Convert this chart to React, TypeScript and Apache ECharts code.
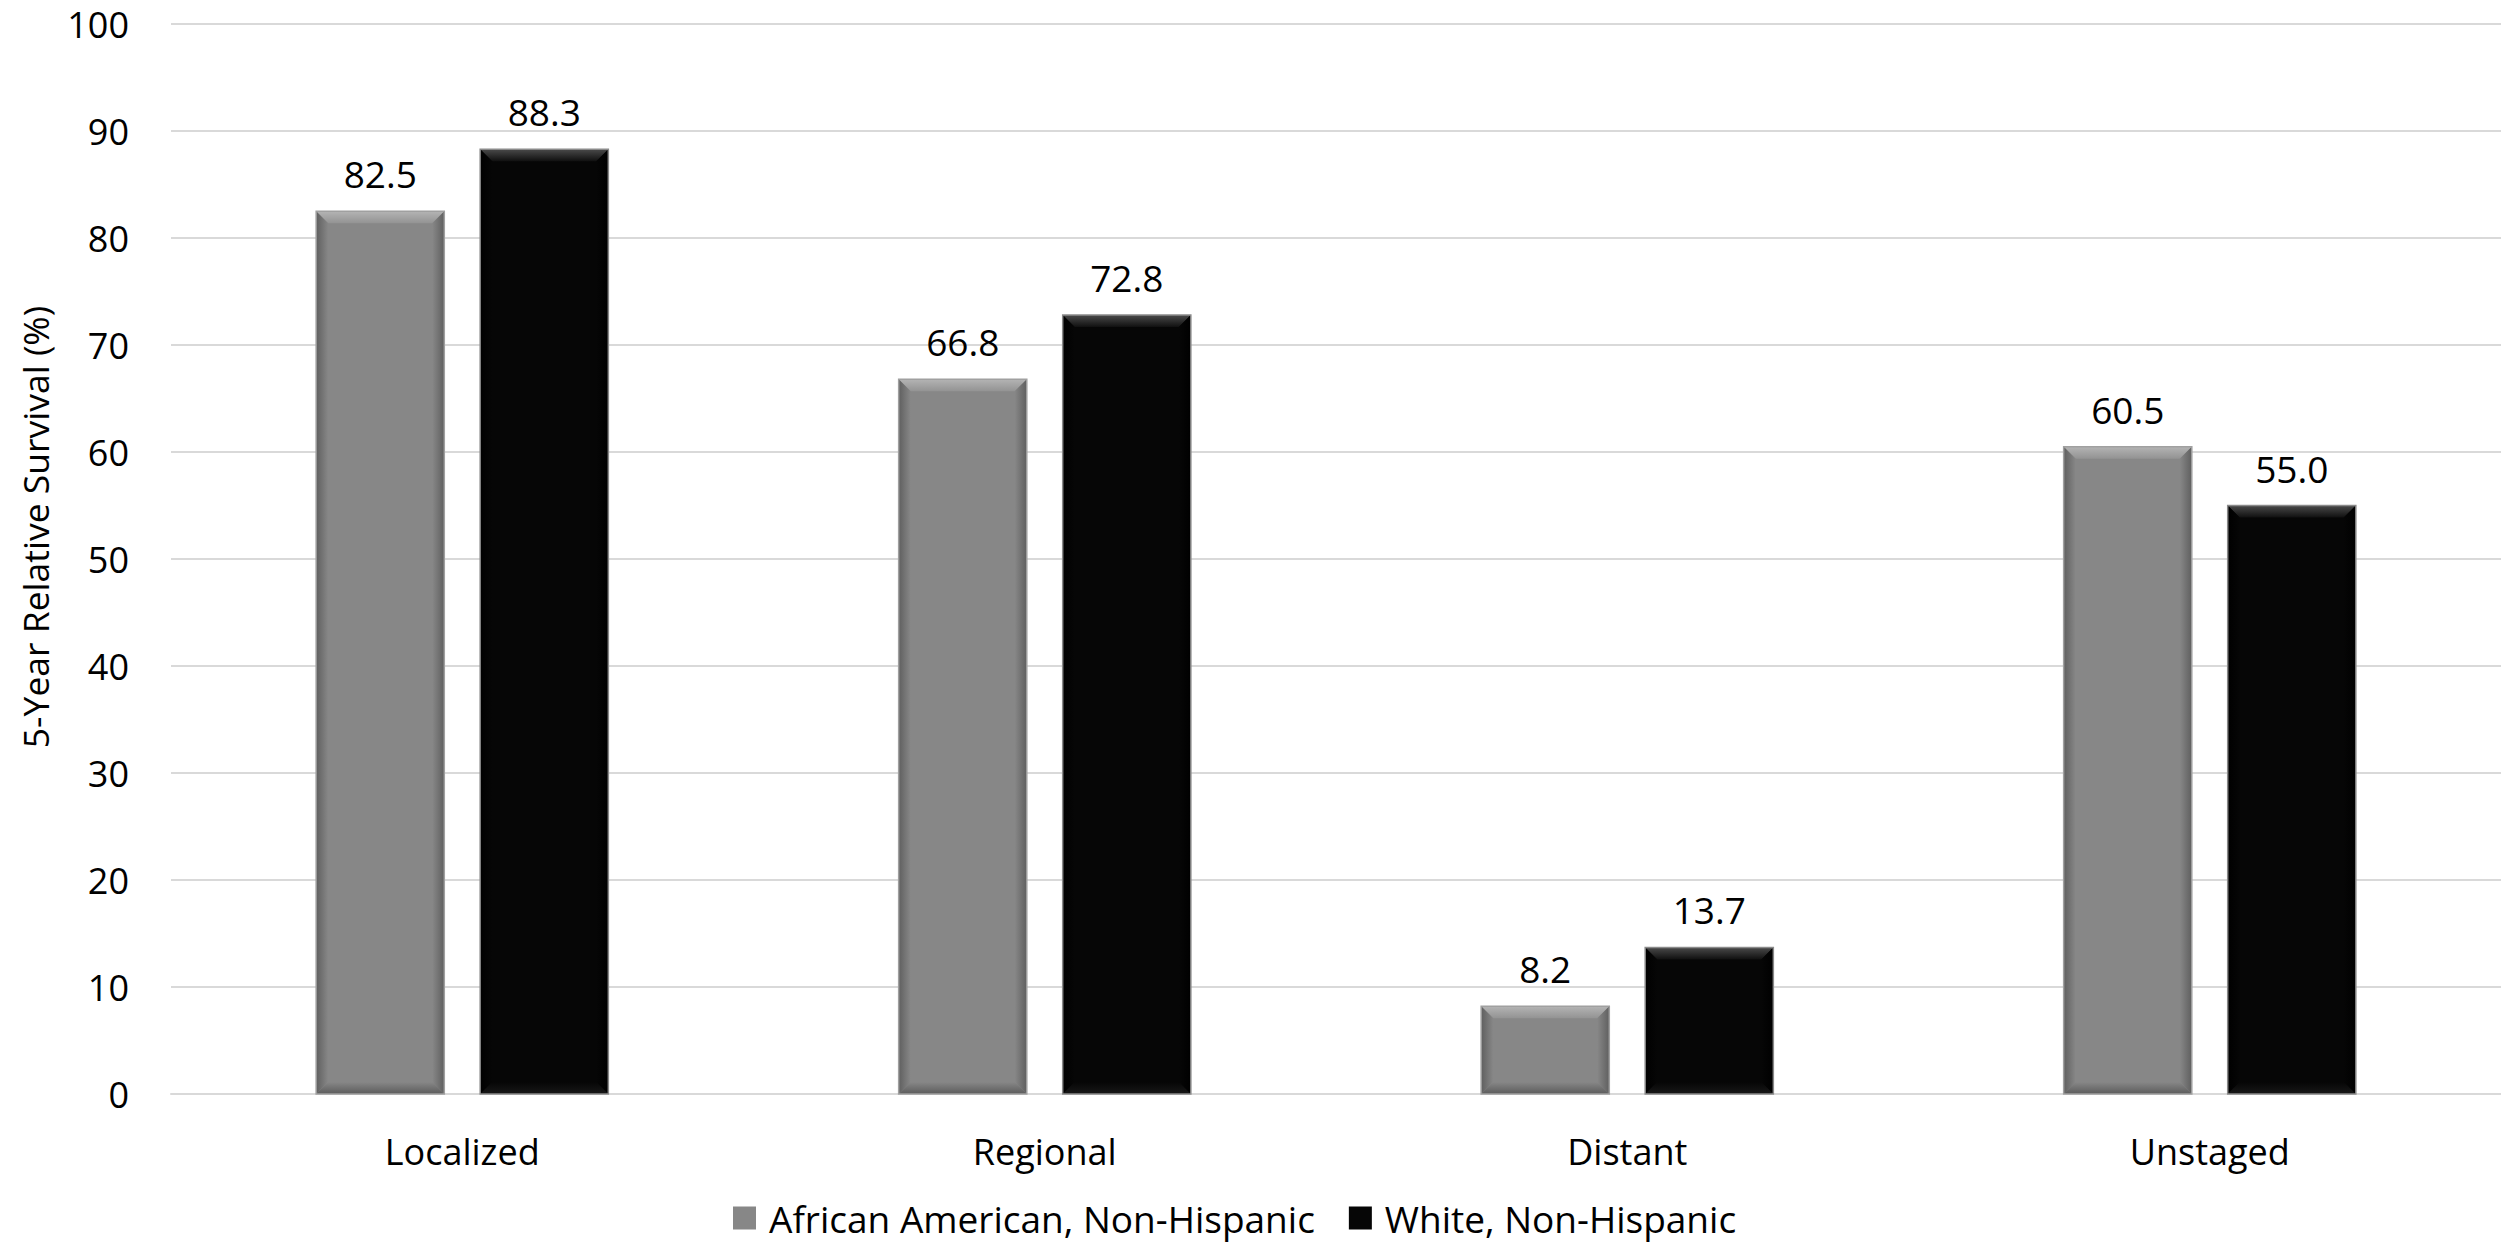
import React, { useEffect, useRef } from "react";
import * as echarts from "echarts";

const categories = ["Localized", "Regional", "Distant", "Unstaged"];
const seriesNames = ["African American, Non-Hispanic", "White, Non-Hispanic"];
const africanAmerican = [82.5, 66.8, 8.2, 60.5];
const white = [88.3, 72.8, 13.7, 55.0];
const yTicks = { min: 0, max: 100, interval: 10 };
const yAxisTitle = "5-Year Relative Survival (%)";

const FONT = "Open Sans";

const palettes = [
  { face: "#878787", top: ["#b4b4b4", "#939393"], side: "#5f5f5f", bottom: "#5c5c5c", stroke: "#a0a0a0" },
  { face: "#060606", top: ["#4a4a4a", "#101010"], side: "#000000", bottom: "#181818", stroke: "#8a8a8a" },
];

function makeRenderItem(sIdx: number) {
  return (params: any, api: any) => {
    const cat = api.value(0);
    const val = api.value(1);
    const top = api.coord([cat, val]);
    const base = api.coord([cat, 0]);
    const bw = api.size([1, 0])[0];
    const w = bw * 0.22;
    const gap = w * 0.28;
    const off = gap / 2 + w / 2;
    const cx = top[0] + (sIdx === 0 ? -off : off);
    const x0 = cx - w / 2;
    const x1 = cx + w / 2;
    const y0 = top[1];
    const y1 = base[1];
    const b = Math.min(12, (y1 - y0) / 2);
    const p = palettes[sIdx];
    return {
      type: "group",
      children: [
        { type: "rect", shape: { x: x0, y: y0, width: w, height: y1 - y0 }, style: { fill: p.face } },
        {
          type: "polygon",
          shape: { points: [[x0, y0], [x1, y0], [x1 - b, y0 + b], [x0 + b, y0 + b]] },
          style: { fill: new echarts.graphic.LinearGradient(0, 0, 0, 1, [{ offset: 0, color: p.top[0] }, { offset: 1, color: p.top[1] }]) },
        },
        {
          type: "polygon",
          shape: { points: [[x0, y0], [x0 + b, y0 + b], [x0 + b, y1 - b], [x0, y1]] },
          style: { fill: new echarts.graphic.LinearGradient(0, 0, 1, 0, [{ offset: 0, color: p.side }, { offset: 1, color: p.face }]) },
        },
        {
          type: "polygon",
          shape: { points: [[x1, y0], [x1 - b, y0 + b], [x1 - b, y1 - b], [x1, y1]] },
          style: { fill: new echarts.graphic.LinearGradient(1, 0, 0, 0, [{ offset: 0, color: p.side }, { offset: 1, color: p.face }]) },
        },
        {
          type: "polygon",
          shape: { points: [[x0, y1], [x1, y1], [x1 - b, y1 - b], [x0 + b, y1 - b]] },
          style: { fill: new echarts.graphic.LinearGradient(0, 1, 0, 0, [{ offset: 0, color: p.bottom }, { offset: 1, color: p.face }]) },
        },
        {
          type: "rect",
          shape: { x: x0, y: y0, width: w, height: y1 - y0 },
          style: { fill: "none", stroke: p.stroke, lineWidth: 1.5 },
        },
        {
          type: "text",
          x: cx,
          y: y0 - 19,
          style: {
            text: val.toFixed(1),
            fill: "#000",
            font: `37px "${FONT}"`,
            textAlign: "center",
            textVerticalAlign: "bottom",
          },
        },
      ],
    };
  };
}

export default function App() {
  const ref = useRef<HTMLDivElement>(null);
  useEffect(() => {
    document.body.style.margin = "0";
    const chart = echarts.init(ref.current!, null, { renderer: "svg" });
    const seriesData = [africanAmerican, white];
    chart.setOption({
      animation: false,
      backgroundColor: "#ffffff",
      textStyle: { fontFamily: FONT },
      grid: { left: 171, right: 0, top: 24, bottom: 151, containLabel: false },
      graphic: [
        {
          type: "text",
          x: 35,
          y: 527,
          rotation: Math.PI / 2,
          style: {
            text: yAxisTitle,
            fill: "#000",
            font: `35.5px "${FONT}"`,
            textAlign: "center",
            textVerticalAlign: "middle",
          },
        },
      ],
      legend: {
        bottom: 2,
        left: 728,
        icon: "rect",
        itemWidth: 23,
        itemHeight: 23,
        itemGap: 34,
        textStyle: { fontSize: 37, lineHeight: 40, color: "#000", fontFamily: FONT, padding: [0, 0, 0, 8] },
        data: seriesNames,
      },
      xAxis: {
        type: "category",
        data: categories,
        axisLine: { show: true, lineStyle: { color: "#d9d9d9", width: 2 } },
        axisTick: { show: false },
        axisLabel: { fontSize: 36, color: "#000", margin: 39, fontFamily: FONT },
        splitLine: { show: false },
      },
      yAxis: {
        type: "value",
        min: yTicks.min,
        max: yTicks.max,
        interval: yTicks.interval,
        axisLine: { show: false },
        axisTick: { show: false },
        axisLabel: { fontSize: 36, color: "#000", margin: 42, fontFamily: FONT },
        splitLine: { lineStyle: { color: "#d9d9d9", width: 2 } },
      },
      series: seriesNames.map((name, i) => ({
        type: "custom",
        name,
        renderItem: makeRenderItem(i),
        itemStyle: { color: palettes[i].face },
        encode: { x: 0, y: 1 },
        data: seriesData[i].map((v, j) => [j, v]),
        z: 3,
      })),
    });
    return () => chart.dispose();
  }, []);
  return <div ref={ref} style={{ position: "fixed", left: 0, top: 0, width: 2501, height: 1245 }} />;
}
